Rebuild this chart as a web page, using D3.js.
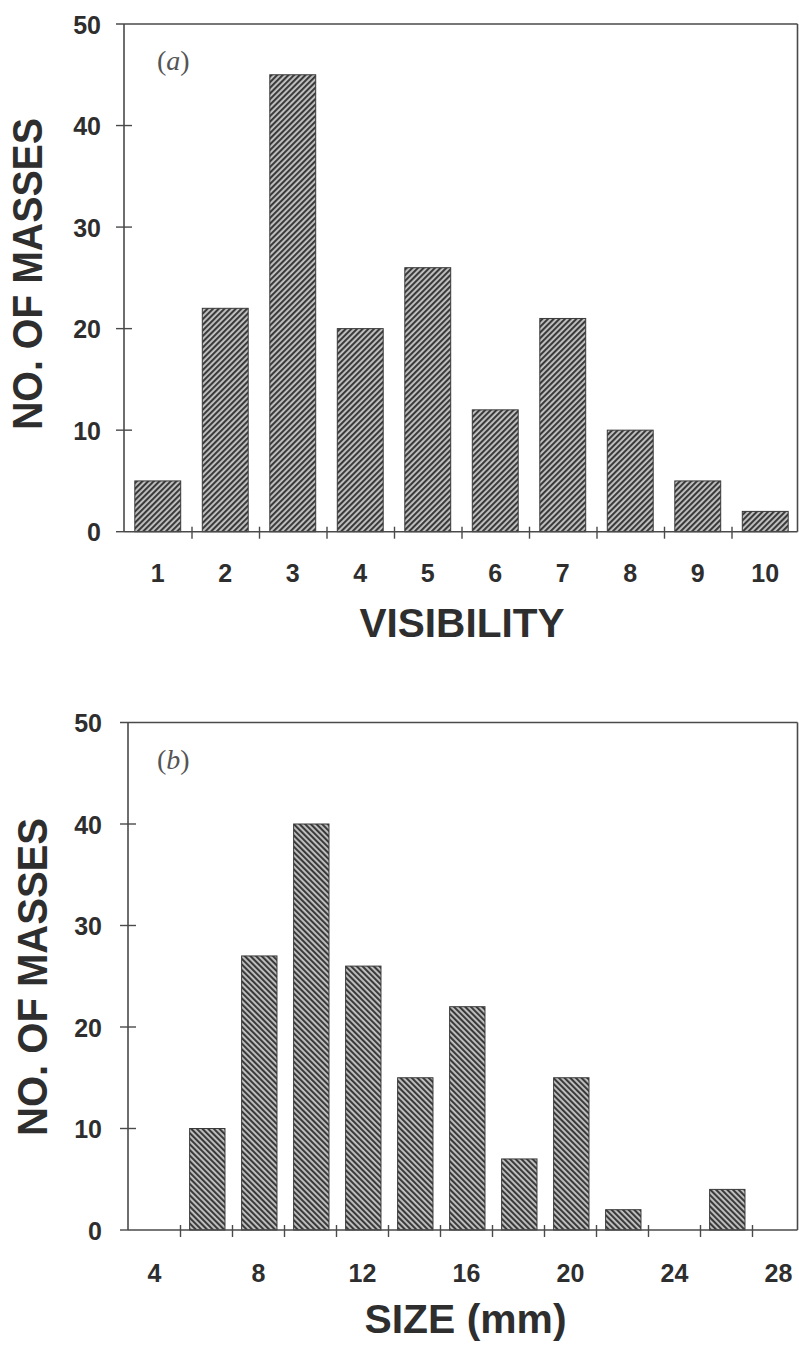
<!DOCTYPE html>
<html>
<head>
<meta charset="utf-8">
<script src="https://cdn.jsdelivr.net/npm/d3@7"></script>
<style>
  html, body { margin: 0; padding: 0; background: #fff; }
  svg { display: block; }
</style>
</head>
<body>
<svg id="chart" width="799" height="1347"></svg>
<script>
// ---- Data: panel (a) ----
const visibilityCategories = ["1","2","3","4","5","6","7","8","9","10"];
const visibilityCounts = [5, 22, 45, 20, 26, 12, 21, 10, 5, 2];

// ---- Data: panel (b) ----
const sizeBinStarts = [5, 7, 9, 11, 13, 15, 17, 19, 21, 23, 25];
const sizeBinEnds   = [7, 9, 11, 13, 15, 17, 19, 21, 23, 25, 27];
const sizeCounts    = [10, 27, 40, 26, 15, 22, 7, 15, 2, 0, 4];
const sizeTickLabels = [4, 8, 12, 16, 20, 24, 28];
const sizeTickMarks = [5, 7, 9, 11, 13, 15, 17, 19, 21, 23, 25, 27];

const yTickValues = [0, 10, 20, 30, 40, 50];

const svg = d3.select("#chart");
const axisColor = "#4a4a4a";
const textColor = "#2e2e2e";
const sans = "'Liberation Sans', Arial, Helvetica, sans-serif";
const tickFont = "25px";

// hatch patterns
const defs = svg.append("defs");
function hatch(id, angle) {
  const p = defs.append("pattern")
    .attr("id", id)
    .attr("patternUnits", "userSpaceOnUse")
    .attr("width", 4).attr("height", 4)
    .attr("patternTransform", `rotate(${angle})`);
  p.append("rect").attr("width", 4).attr("height", 4).attr("fill", "#c4c4c4");
  p.append("rect").attr("width", 2.1).attr("height", 4).attr("fill", "#3a3a3a");
}
hatch("hatchA", 45);
hatch("hatchB", -45);

function yAxisPanel(g, y, axisX, labelRight, rightX) {
  g.append("line").attr("x1", axisX).attr("x2", axisX)
    .attr("y1", y(0)).attr("y2", y(50))
    .attr("stroke", axisColor).attr("stroke-width", 1.6);
  g.append("line").attr("x1", axisX - 8).attr("x2", rightX)
    .attr("y1", y(50)).attr("y2", y(50))
    .attr("stroke", axisColor).attr("stroke-width", 1.6);
  g.append("line").attr("x1", rightX).attr("x2", rightX)
    .attr("y1", y(50)).attr("y2", y(0))
    .attr("stroke", axisColor).attr("stroke-width", 1.6);

  const ax = d3.axisLeft(y).tickValues(yTickValues).tickSize(0).tickPadding(0);
  const ag = g.append("g").attr("transform", `translate(${labelRight},0)`).call(ax);
  ag.select(".domain").remove();
  ag.selectAll("text")
    .attr("x", 0)
    .attr("dy", "0.36em")
    .attr("fill", textColor)
    .style("font-family", sans)
    .style("font-weight", "bold")
    .style("font-size", tickFont);
  g.append("g").selectAll("line").data(yTickValues.filter(v => v > 0 && v < 50))
    .join("line")
    .attr("x1", axisX - 8).attr("x2", axisX + 8)
    .attr("y1", d => y(d)).attr("y2", d => y(d))
    .attr("stroke", axisColor).attr("stroke-width", 1.4);
  g.append("line").attr("x1", axisX - 8).attr("x2", axisX)
    .attr("y1", y(0)).attr("y2", y(0))
    .attr("stroke", axisColor).attr("stroke-width", 1.4);
}

// ================= Panel (a) =================
{
  const axisX = 124, rightX = 797.5;
  const y = d3.scaleLinear().domain([0, 50]).range([531.7, 24]);
  const x = d3.scaleBand().domain(visibilityCategories).range([124, 799])
    .paddingInner(0.32).paddingOuter(0.16);
  const xBoundary = d3.scaleLinear().domain([0.5, 10.5]).range([124, 799]);
  const g = svg.append("g");

  g.selectAll("rect.bar").data(visibilityCounts).join("rect")
    .attr("class", "bar")
    .attr("x", (d, i) => x(visibilityCategories[i]))
    .attr("width", x.bandwidth())
    .attr("y", d => y(d))
    .attr("height", d => y(0) - y(d))
    .attr("fill", "url(#hatchA)")
    .attr("stroke", "#3a3a3a").attr("stroke-width", 1);

  yAxisPanel(g, y, axisX, 101, rightX);

  g.append("line").attr("x1", axisX).attr("x2", rightX)
    .attr("y1", y(0)).attr("y2", y(0))
    .attr("stroke", axisColor).attr("stroke-width", 1.6);
  const tAx = d3.axisBottom(xBoundary)
    .tickValues(d3.range(1.5, 10, 1)).tickSize(7).tickFormat("");
  const tg = g.append("g").attr("transform", `translate(0,${y(0)})`).call(tAx);
  tg.select(".domain").remove();
  tg.selectAll("line").attr("y1", -5).attr("stroke", axisColor).attr("stroke-width", 1.4);
  const lAx = d3.axisBottom(x).tickSize(0).tickPadding(0);
  const lg = g.append("g").attr("transform", `translate(0,581.7)`).call(lAx);
  lg.select(".domain").remove();
  lg.selectAll("text").attr("y", 0).attr("dy", 0)
    .attr("fill", textColor)
    .style("font-family", sans).style("font-weight", "bold").style("font-size", tickFont);

  g.append("text").attr("x", 462).attr("y", 636.7)
    .attr("text-anchor", "middle").attr("fill", textColor)
    .attr("textLength", 205).attr("lengthAdjust", "spacingAndGlyphs")
    .style("font-family", sans).style("font-weight", "bold").style("font-size", "40px")
    .text("VISIBILITY");
  g.append("text")
    .attr("transform", `translate(41.5,274) rotate(-90)`)
    .attr("text-anchor", "middle").attr("fill", textColor)
    .attr("textLength", 312).attr("lengthAdjust", "spacingAndGlyphs")
    .style("font-family", sans).style("font-weight", "bold").style("font-size", "43px")
    .text("NO. OF MASSES");
  const pl = g.append("text").attr("x", 157).attr("y", 70)
    .attr("fill", "#555").style("font-family", "'Liberation Serif', 'DejaVu Serif', serif")
    .style("font-size", "28px");
  pl.append("tspan").text("(");
  pl.append("tspan").style("font-style", "italic").text("a");
  pl.append("tspan").text(")");
}

// ================= Panel (b) =================
{
  const axisX = 128, rightX = 797.5;
  const y = d3.scaleLinear().domain([0, 50]).range([1230, 722.5]);
  const x = d3.scaleLinear().domain([3, 29]).range([128, 804]);
  const g = svg.append("g");
  const pad = 0.32;

  g.selectAll("rect.bar").data(sizeCounts).join("rect")
    .attr("class", "bar")
    .attr("x", (d, i) => x(sizeBinStarts[i] + pad + 0.05))
    .attr("width", (d, i) => x(sizeBinEnds[i] - pad + 0.05) - x(sizeBinStarts[i] + pad + 0.05))
    .attr("y", d => y(d))
    .attr("height", d => y(0) - y(d))
    .attr("fill", "url(#hatchB)")
    .attr("stroke", "#3a3a3a").attr("stroke-width", 1)
    .style("display", d => d > 0 ? null : "none");

  yAxisPanel(g, y, axisX, 102, rightX);

  g.append("line").attr("x1", axisX).attr("x2", rightX)
    .attr("y1", y(0)).attr("y2", y(0))
    .attr("stroke", axisColor).attr("stroke-width", 1.6);
  const tAx = d3.axisBottom(x).tickValues(sizeTickMarks).tickSize(7).tickFormat("");
  const tg = g.append("g").attr("transform", `translate(0,${y(0)})`).call(tAx);
  tg.select(".domain").remove();
  tg.selectAll("line").attr("y1", -5).attr("stroke", axisColor).attr("stroke-width", 1.4);
  const lAx = d3.axisBottom(x).tickValues(sizeTickLabels).tickSize(0).tickPadding(0);
  const lg = g.append("g").attr("transform", `translate(0,1281.7)`).call(lAx);
  lg.select(".domain").remove();
  lg.selectAll("text").attr("y", 0).attr("dy", 0)
    .attr("fill", textColor)
    .style("font-family", sans).style("font-weight", "bold").style("font-size", tickFont);

  g.append("text").attr("x", 465.5).attr("y", 1333)
    .attr("text-anchor", "middle").attr("fill", textColor)
    .attr("textLength", 202).attr("lengthAdjust", "spacingAndGlyphs")
    .style("font-family", sans).style("font-weight", "bold").style("font-size", "41px")
    .text("SIZE (mm)");
  g.append("text")
    .attr("transform", `translate(46.5,977) rotate(-90)`)
    .attr("text-anchor", "middle").attr("fill", textColor)
    .attr("textLength", 318).attr("lengthAdjust", "spacingAndGlyphs")
    .style("font-family", sans).style("font-weight", "bold").style("font-size", "43px")
    .text("NO. OF MASSES");
  const pl = g.append("text").attr("x", 157).attr("y", 769)
    .attr("fill", "#555").style("font-family", "'Liberation Serif', 'DejaVu Serif', serif")
    .style("font-size", "28px");
  pl.append("tspan").text("(");
  pl.append("tspan").style("font-style", "italic").text("b");
  pl.append("tspan").text(")");
}
</script>
</body>
</html>
